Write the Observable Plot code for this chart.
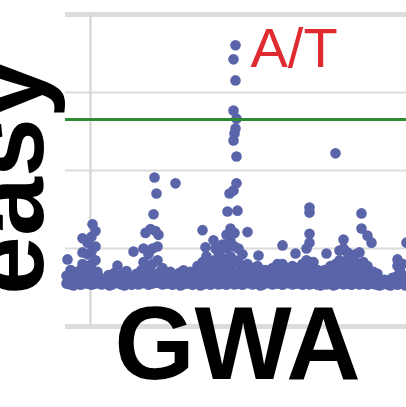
<!DOCTYPE html>
<html><head><meta charset="utf-8">
<script src="https://cdn.jsdelivr.net/npm/d3@7"></script>
<script src="https://cdn.jsdelivr.net/npm/@observablehq/plot@0.6"></script>
<style>
html,body{margin:0;padding:0;background:#fff;}
#chart{width:406px;height:407px;overflow:hidden;position:relative;}
#chart svg{overflow:hidden;}
</style></head><body><div id="chart"></div>
<script>
// Genomic position (arbitrary units) and -log10(p) for each marker
const posX = [
  2, 1, 1, 5, 5, 5, 10, 10, 15, 15, 15,
  17, 17, 17, 17, 17, 22, 22, 22, 22, 22, 26, 26, 26, 26, 26, 27,
  30, 30, 30, 30, 30, 32, 32,
  36, 36, 41, 41, 46, 46, 51, 51, 52, 56, 56, 61, 61, 61, 66, 66, 68,
  71, 71, 73, 73, 78, 78, 78, 78, 83, 83, 83, 83,
  80, 85, 90, 93, 87, 87, 87, 87, 88, 89, 91,
  92, 92, 92, 92, 97, 97, 97, 102, 102, 107, 107, 110,
  112, 112, 117, 117, 118, 122, 122, 127, 127, 132, 132, 132,
  137, 137, 137, 137, 141, 141, 141, 140, 145, 145, 145,
  149, 149, 149, 148, 150, 153, 153, 153, 153, 157, 157, 157, 157,
  161, 161, 161, 161, 161, 162, 164, 165, 165, 165, 165, 165, 167, 168,
  169, 169, 169, 169, 169, 171,
  171, 168, 169, 170, 171, 168, 170, 168, 170,
  172, 173, 173, 173, 173, 177, 177, 177, 177,
  182, 182, 182, 182, 187, 187, 187, 192, 192, 192, 193,
  197, 197, 197, 202, 202, 207, 207, 207, 212, 212, 212,
  217, 217, 217, 217, 222, 222, 222, 227, 227, 227, 230,
  232, 232, 232, 237, 237, 237, 241, 241, 241, 241,
  244, 244, 244, 244, 244, 244, 244, 248, 248, 248, 252, 252, 252,
  257, 257, 261, 261, 261, 265, 265, 265, 270, 270, 270, 270,
  274, 274, 274, 274, 278, 278, 278, 278, 278, 282, 282, 282, 282,
  286, 286, 286, 290, 290, 290, 290, 294, 294, 294, 294, 296, 296,
  298, 298, 298, 302, 302, 302, 302, 306, 306, 306, 310, 310,
  316, 316, 322, 322, 327, 327, 332, 332, 332, 332, 337, 337, 337, 341,
  3, 8, 8, 12, 20, 24, 28, 34, 38, 43, 44, 48, 49, 54, 58, 59, 63, 69, 75, 76,
  81, 85, 90, 95, 95, 100, 104, 105, 109, 114, 115, 120, 124, 125, 130, 134, 135, 139,
  143, 147, 151, 155, 159, 163, 167, 171, 175, 179, 180, 184, 185, 190, 189, 195, 195,
  200, 200, 205, 205, 210, 210, 215, 215, 220, 220, 225, 225, 229, 235, 235, 239, 243,
  246, 250, 255, 255, 259, 263, 268, 268, 272, 276, 280, 284, 288, 292, 296, 300, 304,
  308, 312, 314, 319, 325, 330, 335, 339, 340
];
const logP = [
  1.72, 1.10, 1.30, 1.08, 1.28, 1.45, 1.11, 1.35, 1.07, 1.22, 1.45,
  1.09, 1.30, 1.60, 1.90, 2.26, 1.10, 1.30, 1.55, 1.85, 2.15, 1.07, 1.28, 1.60, 1.92, 2.30, 2.62,
  1.10, 1.35, 1.70, 2.05, 2.45, 1.12, 1.40,
  1.08, 1.22, 1.10, 1.20, 1.07, 1.25, 1.11, 1.30, 1.56, 1.08, 1.24, 1.10, 1.28, 1.42, 1.07, 1.22, 1.92,
  1.12, 1.35, 1.08, 1.30, 1.11, 1.35, 1.65, 2.00, 1.07, 1.30, 1.55, 1.85,
  2.40, 2.50, 2.45, 2.35, 1.10, 1.30, 1.60, 2.00, 2.88, 3.82, 3.41,
  1.12, 1.35, 1.70, 2.05, 1.08, 1.25, 1.50, 1.10, 1.22, 1.07, 1.28, 3.67,
  1.11, 1.25, 1.08, 1.30, 1.44, 1.10, 1.22, 1.07, 1.28, 1.11, 1.35, 1.55,
  1.08, 1.30, 1.65, 2.47, 1.10, 1.40, 1.80, 2.03, 1.07, 1.30, 1.65,
  1.11, 1.35, 1.70, 2.21, 2.00, 1.08, 1.30, 1.60, 1.90, 1.10, 1.35, 1.75, 2.10,
  1.07, 1.30, 1.65, 2.00, 2.35, 2.95, 3.41, 1.11, 1.40, 1.80, 2.20, 2.51, 2.38, 3.49,
  1.08, 1.35, 1.70, 2.05, 2.40, 3.67,
  4.36, 4.77, 4.95, 5.08, 5.33, 5.54, 6.31, 6.85, 7.21,
  2.97, 1.10, 1.30, 1.65, 2.00, 1.07, 1.25, 1.55, 1.85,
  2.42, 1.11, 1.35, 1.60, 1.08, 1.25, 1.50, 1.10, 1.30, 1.55, 1.82,
  1.07, 1.22, 1.45, 1.11, 1.30, 1.08, 1.25, 1.50, 1.10, 1.35, 1.60,
  1.07, 1.30, 1.60, 2.08, 1.11, 1.28, 1.50, 1.08, 1.25, 1.55, 1.87,
  1.10, 1.30, 1.50, 1.07, 1.30, 1.60, 1.11, 1.35, 1.70, 2.00,
  1.08, 1.30, 1.65, 2.15, 2.38, 2.92, 3.05, 1.10, 1.35, 1.65, 1.07, 1.25, 1.45,
  1.11, 1.30, 1.08, 1.28, 1.87, 1.10, 1.35, 1.55, 1.07, 1.30, 1.60, 4.44,
  1.11, 1.35, 1.70, 1.95, 1.08, 1.30, 1.65, 2.00, 2.23, 1.10, 1.35, 1.70, 1.90,
  1.07, 1.30, 1.60, 1.11, 1.35, 1.65, 1.85, 1.08, 1.30, 1.60, 1.90, 2.90, 2.51,
  1.10, 1.30, 1.65, 1.07, 1.25, 1.55, 2.33, 1.10, 1.30, 2.15, 1.08, 1.20,
  1.07, 1.15, 1.08, 1.18, 1.10, 1.25, 1.07, 1.30, 1.55, 1.72, 1.10, 1.30, 1.60, 2.15,
  1.18, 1.40, 1.05, 1.20, 1.15, 1.42, 1.18, 1.25, 1.15, 1.32, 1.05, 1.15, 1.38, 1.18, 1.35, 1.05, 1.18, 1.30, 1.20, 1.45,
  1.18, 1.40, 1.20, 1.15, 1.40, 1.30, 1.15, 1.40, 1.18, 1.38, 1.05, 1.35, 1.15, 1.40, 1.20, 1.45, 1.05, 1.20,
  1.50, 1.20, 1.45, 1.20, 1.50, 1.20, 1.60, 1.25, 1.45, 1.20, 1.40, 1.20, 1.45, 1.18, 1.40, 1.35, 1.05,
  1.20, 1.45, 1.15, 1.40, 1.20, 1.45, 1.15, 1.40, 1.20, 1.42, 1.15, 1.40, 1.20, 1.18, 1.45, 1.20, 1.45,
  1.20, 1.45, 1.20, 1.05, 1.45, 1.20, 1.45, 1.05, 1.20, 1.45, 1.20, 1.50, 1.20, 1.45, 1.20, 1.40, 1.20,
  1.40, 1.35, 1.05, 1.20, 1.05, 1.20, 1.40, 1.20, 1.05
];
const yGrid = [0, 2, 4, 6, 8];
const xGrid = [25];
const threshold = [5.31];
const yLabel = "easy";
const xLabel = "GWA";
const peakLabel = "A/T";

const points = posX.map((x, i) => ({x, y: logP[i]}));
const peak = d3.greatest(points, d => d.y);

const chart = Plot.plot({
  width: 406, height: 407,
  marginLeft: 65, marginRight: 0, marginTop: 14, marginBottom: 81,
  x: {domain: [0, 341], axis: null},
  y: {domain: [0, 8], axis: null},
  style: {fontFamily: "'Liberation Sans', Arial, sans-serif", background: "#fff"},
  marks: [
    Plot.ruleY(yGrid, {stroke: "#dcdcdc", strokeWidth: d => (d === 0 || d === 8) ? 5 : 2}),
    Plot.ruleX(xGrid, {stroke: "#d2d2d2", strokeWidth: 2}),
    Plot.dot(points, {x: "x", y: "y", r: 5.3, fill: "#5a64a9", stroke: "none"}),
    Plot.ruleY(threshold, {stroke: "#2f8a34", strokeWidth: 3}),
    Plot.text([peak], {x: "x", y: "y", text: () => peakLabel, textAnchor: "start", lineAnchor: "bottom",
      dx: 15, dy: 22, fontSize: 56, fill: "#df2a2f"}),
    Plot.text([yLabel], {text: d => d, frameAnchor: "left", rotate: -90, textAnchor: "middle", lineAnchor: "bottom",
      dx: -23, dy: 6.5, fontSize: 106, fontWeight: "bold", fill: "#000"}),
    Plot.text([xLabel], {text: d => d, frameAnchor: "bottom", textAnchor: "middle", lineAnchor: "bottom",
      dx: 1.5, dy: 52, fontSize: 103, fontWeight: "bold", fill: "#000"})
  ]
});
document.getElementById("chart").append(chart);
</script>
</body></html>
